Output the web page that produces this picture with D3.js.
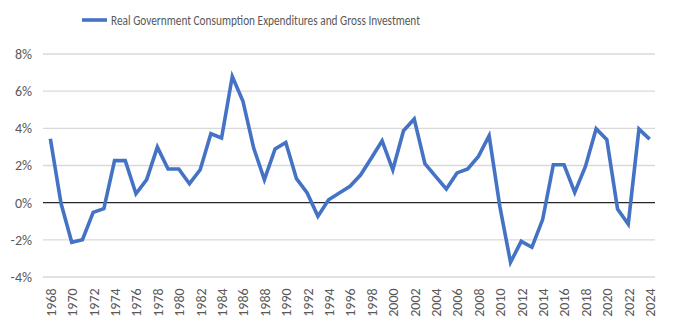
<!DOCTYPE html>
<html>
<head>
<meta charset="utf-8">
<script src="https://cdn.jsdelivr.net/npm/d3@7"></script>
<style>
  html, body { margin: 0; padding: 0; background: #ffffff; }
  svg { display: block; }
</style>
</head>
<body>
<svg id="chart" width="700" height="334"></svg>
<script>
// Annual % change, real government consumption expenditures and gross investment
const years = d3.range(1968, 2025);
const growth = [
  3.44, -0.05, -2.13, -1.99, -0.52, -0.32, 2.26, 2.26, 0.48, 1.24,
  2.99, 1.81, 1.81, 1.02, 1.77, 3.71, 3.48, 6.79, 5.45, 2.94,
  1.24, 2.89, 3.24, 1.29, 0.52, -0.73, 0.16, 0.52, 0.88, 1.50,
  2.40, 3.33, 1.77, 3.87, 4.50, 2.10, 1.41, 0.74, 1.60, 1.81,
  2.49, 3.60, -0.20, -3.21, -2.08, -2.40, -0.91, 2.04, 2.04, 0.55,
  1.95, 3.98, 3.39, -0.34, -1.15, 3.96, 3.42
];
const yTicks = [-4, -2, 0, 2, 4, 6, 8];
const xTickYears = years.filter(y => (y - 1968) % 2 === 0);
const seriesName = "Real Government Consumption Expenditures and Gross Investment";

const svg = d3.select("#chart");
const margin = { left: 45, right: 45 };
const W = 700;

const x = d3.scalePoint()
  .domain(years)
  .range([margin.left, W - margin.right])
  .padding(0.5);

const y = d3.scaleLinear()
  .domain([-4, 8])
  .range([277, 54]);

const textColor = "#595959";
const font = "Calibri, Carlito, Lato, 'Liberation Sans', Arial, sans-serif";

// horizontal gridlines
svg.append("g")
  .selectAll("line")
  .data(yTicks.filter(t => t !== 0))
  .join("line")
  .attr("x1", 43).attr("x2", 655)
  .attr("y1", d => y(d)).attr("y2", d => y(d))
  .attr("stroke", "#d9d9d9")
  .attr("stroke-width", 1.3);

// y axis labels
const yAxis = d3.axisLeft(y)
  .tickValues(yTicks)
  .tickFormat(d => d + "%")
  .tickSize(0)
  .tickPadding(0);
const gy = svg.append("g")
  .attr("transform", "translate(32,0)")
  .call(yAxis);
gy.select(".domain").remove();
gy.selectAll("text")
  .attr("fill", textColor)
  .style("font-family", font)
  .style("font-size", "14px");

// zero baseline
svg.append("line")
  .attr("x1", 43).attr("x2", 655)
  .attr("y1", y(0)).attr("y2", y(0))
  .attr("stroke", "#262626")
  .attr("stroke-width", 1.3);

// x axis labels, rotated
const xAxis = d3.axisBottom(x)
  .tickValues(xTickYears)
  .tickSize(0)
  .tickPadding(0);
const gx = svg.append("g")
  .attr("transform", "translate(0,287)")
  .call(xAxis);
gx.select(".domain").remove();
gx.selectAll("text")
  .attr("fill", textColor)
  .style("font-family", font)
  .style("font-size", "14px")
  .attr("transform", "rotate(-90)")
  .attr("text-anchor", "end")
  .attr("x", 0)
  .attr("y", 0)
  .attr("dy", "0.35em")
  .attr("dx", "-0.1em");

// series line
const line = d3.line()
  .x((d, i) => x(years[i]))
  .y(d => y(d));
svg.append("path")
  .datum(growth)
  .attr("fill", "none")
  .attr("stroke", "#4472C4")
  .attr("stroke-width", 3.6)
  .attr("stroke-linejoin", "miter")
  .attr("d", line);

// legend
const lg = svg.append("g");
lg.append("line")
  .attr("x1", 82).attr("x2", 107)
  .attr("y1", 20).attr("y2", 20)
  .attr("stroke", "#4472C4")
  .attr("stroke-width", 3.6);
lg.append("text")
  .attr("x", 111).attr("y", 20)
  .attr("dy", "0.35em")
  .attr("fill", textColor)
  .style("font-family", font)
  .style("font-size", "14px")
  .attr("textLength", 309)
  .attr("lengthAdjust", "spacingAndGlyphs")
  .text(seriesName);
</script>
</body>
</html>
